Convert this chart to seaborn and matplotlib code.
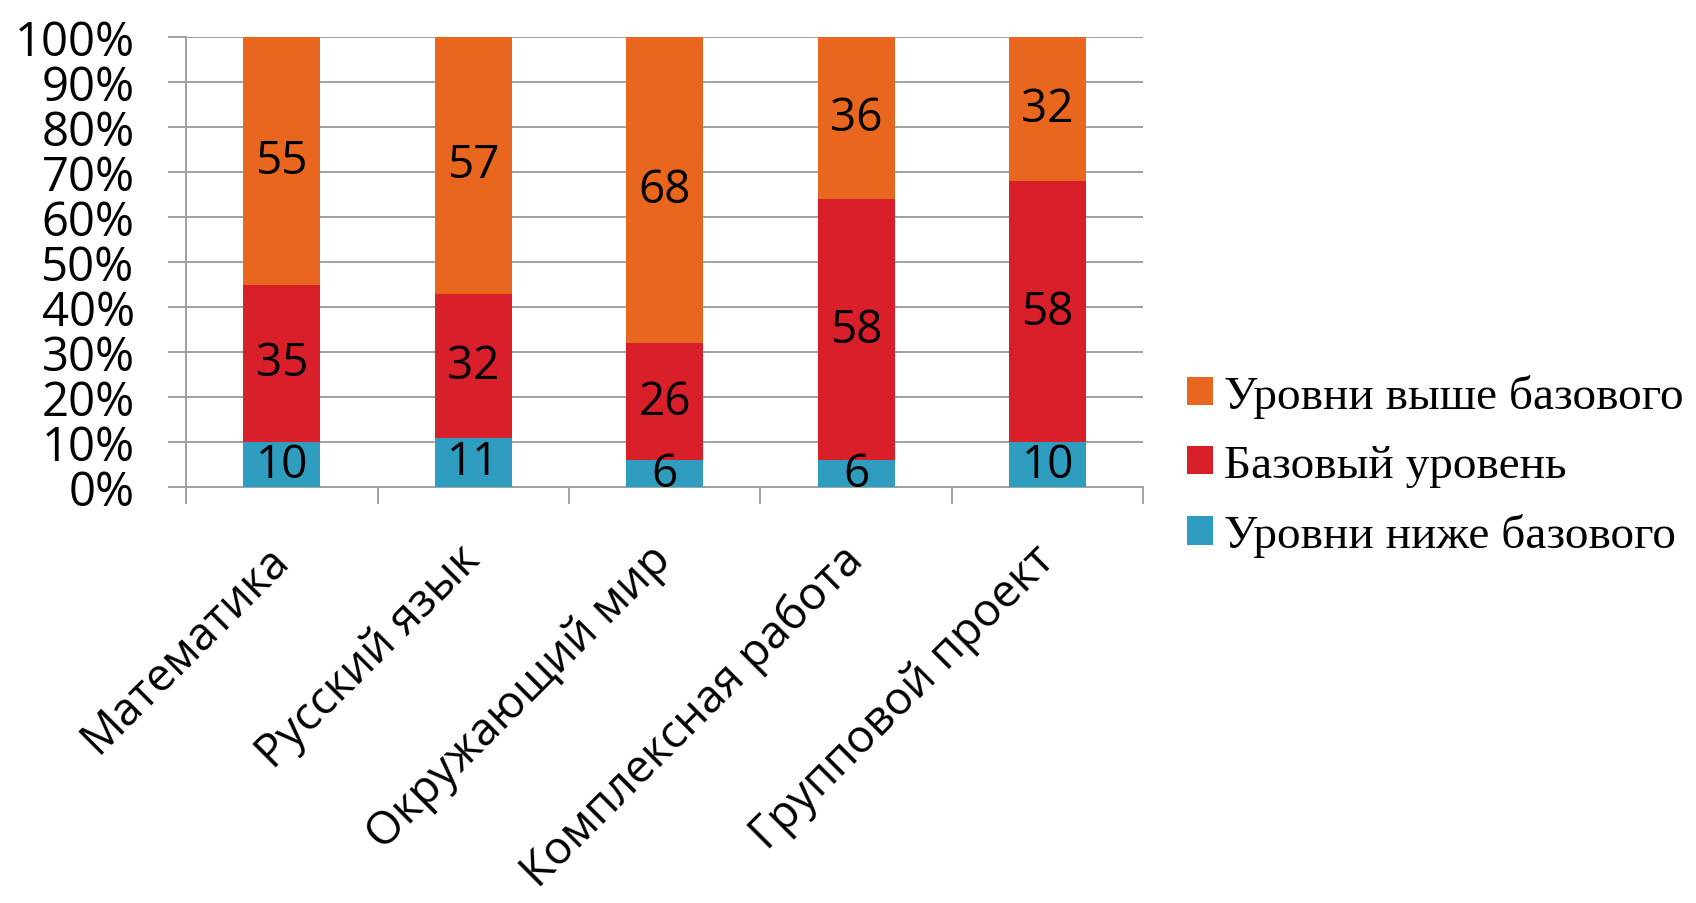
import matplotlib
matplotlib.use("Agg")
import matplotlib.pyplot as plt
import numpy as np
import pandas as pd
import seaborn as sns

# dados (%)
disciplinas = ['Математика', 'Русский язык', 'Окружающий мир', 'Комплексная работа', 'Групповой проект']
ниже = [10, 11, 6, 6, 10]
базовый = [35, 32, 26, 58, 58]
выше = [55, 57, 68, 36, 32]
rotulos = ['Уровни выше базового', 'Базовый уровень', 'Уровни ниже базового']
cores = ['#E8661E', '#D91F2A', '#2E9DBF']

df = pd.DataFrame({'disc': disciplinas, 'ниже': ниже, 'базовый': базовый, 'выше': выше})
df['topo_base'] = df['ниже'] + df['базовый']
df['topo'] = df['topo_base'] + df['выше']

sns.set_style('white')
plt.rcParams['font.family'] = ['Open Sans', 'DejaVu Sans']
plt.rcParams['text.color'] = 'black'

fig = plt.figure(figsize=(16.96, 9.04), dpi=100)
ax = fig.add_axes([0.1097, 0.460, 0.5645, 0.498])

# barras empilhadas: desenha do total para baixo
sns.barplot(data=df, x='disc', y='topo', color=cores[0], width=0.4, saturation=1,
            linewidth=0, label=rotulos[0], ax=ax, zorder=3)
sns.barplot(data=df, x='disc', y='topo_base', color=cores[1], width=0.4, saturation=1,
            linewidth=0, label=rotulos[1], ax=ax, zorder=3)
sns.barplot(data=df, x='disc', y='ниже', color=cores[2], width=0.4, saturation=1,
            linewidth=0, label=rotulos[2], ax=ax, zorder=3)

# valores dentro dos segmentos
for i, row in df.iterrows():
    ax.text(i, row['ниже'] / 2, str(row['ниже']), ha='center', va='center', fontsize=33, zorder=4)
    ax.text(i, row['ниже'] + row['базовый'] / 2, str(row['базовый']), ha='center', va='center', fontsize=33, zorder=4)
    ax.text(i, row['topo_base'] + row['выше'] / 2, str(row['выше']), ha='center', va='center', fontsize=33, zorder=4)

ax.set_xlim(-0.5, 4.5)
ax.set_ylim(0, 100)
ax.set_yticks(np.arange(0, 101, 10))
ax.set_yticklabels([f'{v}%' for v in range(0, 101, 10)], fontsize=34)
ax.yaxis.grid(True, color='#A0A0A0', linewidth=1.4, zorder=0)
ax.tick_params(axis='y', length=13, width=1.4, color='#A0A0A0', labelcolor='black', pad=24,
               direction='out', left=True)

ax.set_xticks(range(5))
ax.set_xticklabels(disciplinas, fontsize=33, rotation=45, ha='right', va='center', rotation_mode='anchor')
ax.tick_params(axis='x', length=0, pad=47, labelcolor='black')
ax.set_xticks(np.arange(-0.5, 5, 1), minor=True)
ax.tick_params(axis='x', which='minor', length=12, width=1.4, color='#A0A0A0', direction='out', bottom=True)

ax.set_xlabel('')
ax.set_ylabel('')
for s in ['top', 'right']:
    ax.spines[s].set_visible(False)
for s in ['left', 'bottom']:
    ax.spines[s].set_color('#A0A0A0')
    ax.spines[s].set_linewidth(1.4)

leg = ax.legend(loc='center left', bbox_to_anchor=(0.700, 0.484), bbox_transform=fig.transFigure,
                frameon=False, prop={'family': 'Liberation Serif', 'size': 34}, borderpad=0,
                borderaxespad=0, handlelength=0.55, handleheight=0.55, handletextpad=0.22,
                labelspacing=0.56)

fig.savefig('out.png', dpi=100)
